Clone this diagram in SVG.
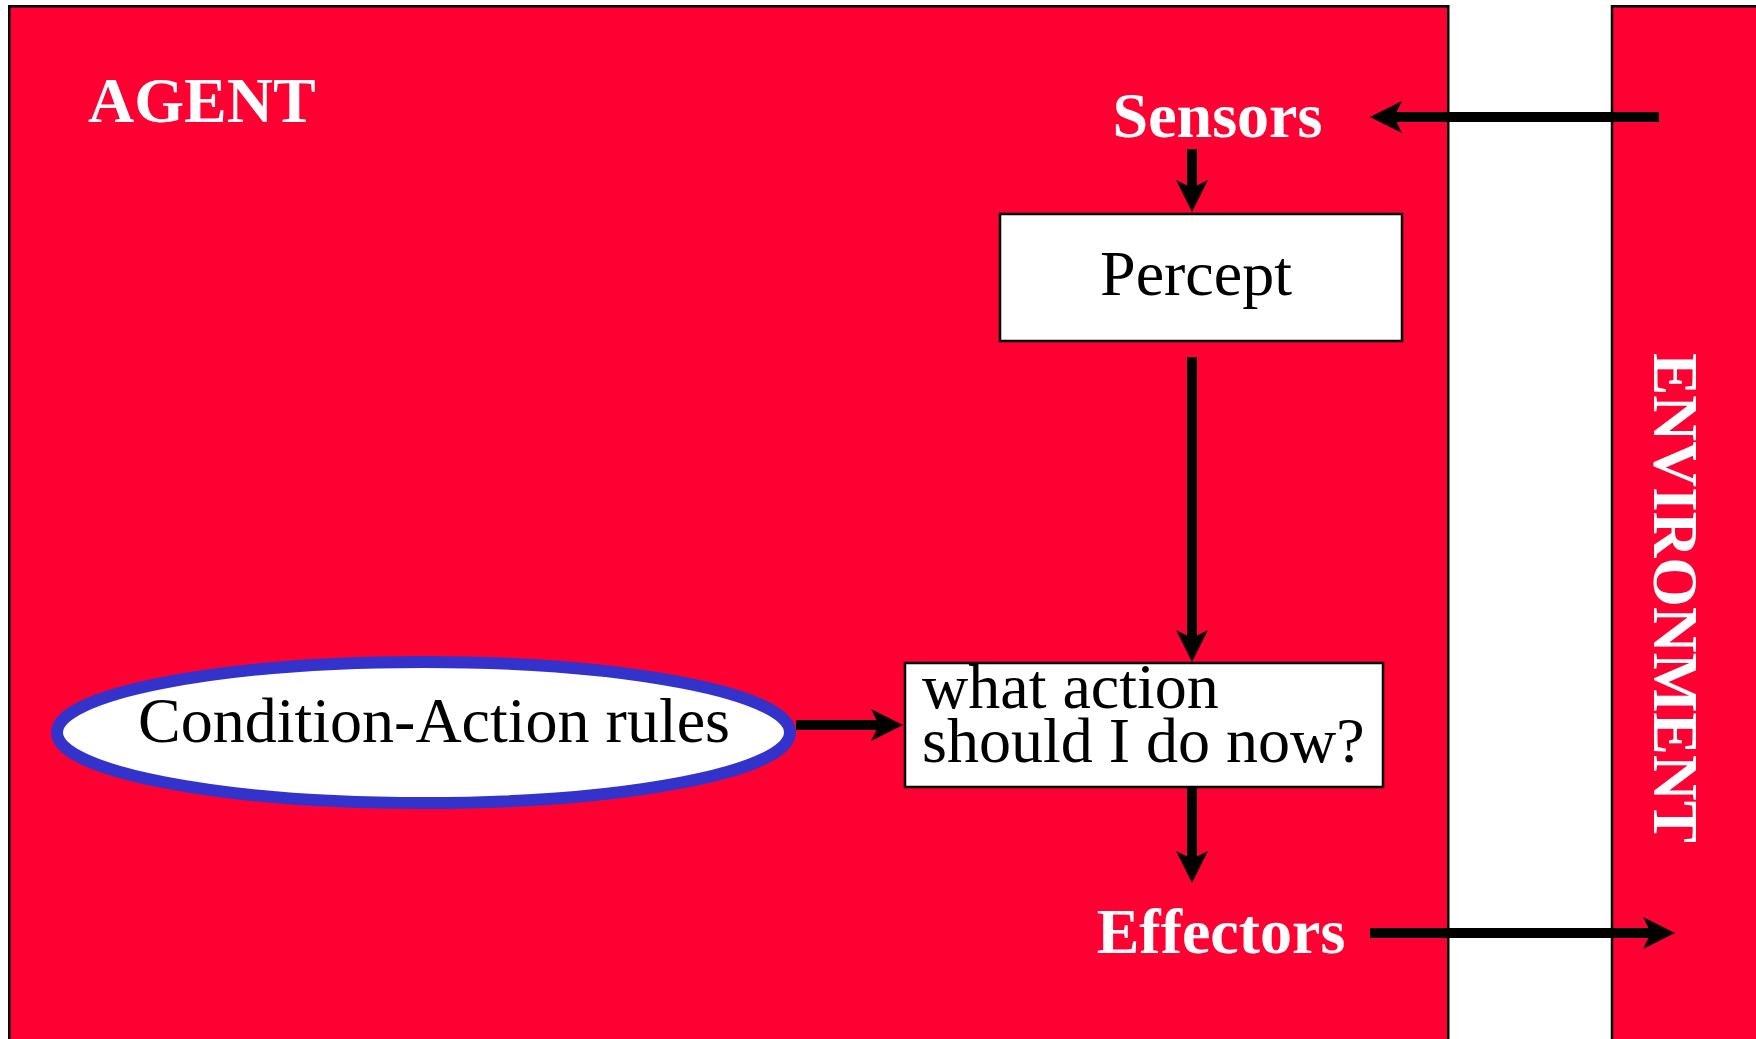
<svg xmlns="http://www.w3.org/2000/svg" width="1756" height="1039" viewBox="0 0 1756 1039">
<style>
.panel{fill:#ff0033;stroke:#000;stroke-width:2.5}
.box{fill:#fff;stroke:#000;stroke-width:2.5}
.lbl{font-family:"Liberation Serif","Times New Roman",serif;font-weight:bold;font-size:64px;fill:#fff}
.txt{font-family:"Liberation Serif","Times New Roman",serif;font-size:64px;fill:#000}
.conn{stroke:#000;stroke-width:10;fill:none}
</style>
<defs>
<marker id="ah" viewBox="0 -16 32 32" refX="8" refY="0" markerWidth="32" markerHeight="32" markerUnits="userSpaceOnUse" orient="auto">
<path d="M0,-16 L32,0 L0,16 L8,0 Z" fill="#000"/>
</marker>
</defs>
<rect width="1756" height="1039" fill="#fff"/>
<g id="agent">
<rect class="panel" x="9.25" y="6.25" width="1439" height="1100"/>
<text class="lbl" x="88" y="122">AGENT</text>
</g>
<g id="environment">
<rect class="panel" x="1612" y="6.25" width="200" height="1100"/>
<text class="lbl" transform="translate(1653.5,353) rotate(90)" textLength="490" lengthAdjust="spacingAndGlyphs">ENVIRONMENT</text>
</g>
<g id="sensors">
<text class="lbl" x="1217.5" y="137" text-anchor="middle">Sensors</text>
</g>
<g id="percept">
<rect class="box" x="1000" y="214" width="402" height="127"/>
<text class="txt" x="1196" y="295" text-anchor="middle">Percept</text>
</g>
<g id="action">
<rect class="box" x="905" y="663" width="478" height="124"/>
<text class="txt" x="922" y="708" font-size="63">what action</text>
<text class="txt" x="922" y="762" font-size="63">should I do now?</text>
</g>
<g id="rules">
<ellipse cx="423.5" cy="732.5" rx="366.5" ry="70.5" fill="#fff" stroke="#3333cc" stroke-width="12"/>
<text class="txt" x="434" y="742" text-anchor="middle">Condition-Action rules</text>
</g>
<g id="effectors">
<text class="lbl" x="1221" y="953" text-anchor="middle">Effectors</text>
</g>
<g id="connectors">
<line class="conn" x1="1659" y1="117" x2="1394" y2="117" marker-end="url(#ah)"/>
<line class="conn" x1="1192" y1="149" x2="1192" y2="188" marker-end="url(#ah)"/>
<line class="conn" x1="1192" y1="357" x2="1192" y2="638" marker-end="url(#ah)"/>
<line class="conn" x1="796" y1="725" x2="879" y2="725" marker-end="url(#ah)"/>
<line class="conn" x1="1192" y1="787" x2="1192" y2="859" marker-end="url(#ah)"/>
<line class="conn" x1="1370" y1="933" x2="1651" y2="933" marker-end="url(#ah)"/>
</g>
</svg>
